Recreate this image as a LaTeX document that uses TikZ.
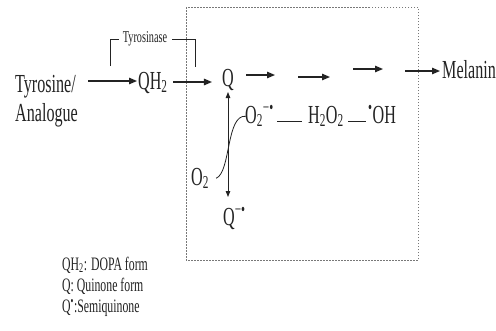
\documentclass[tikz,border=0pt]{standalone}
\usepackage{fontspec}
\setmainfont{Liberation Serif}[FakeStretch=0.62]
\usetikzlibrary{arrows.meta}
\definecolor{ink}{RGB}{35,35,35}
\definecolor{boxgray}{RGB}{120,120,120}
\begin{document}
\begin{tikzpicture}[x=1pt,y=-1pt,
  lbl/.style={inner sep=1pt,text=ink,font=\fontsize{26}{28}\selectfont},
  leg/.style={inner sep=0pt,text=ink,anchor=base west,font=\fontsize{19}{21}\selectfont},
  enz/.style={inner sep=1pt,text=ink,font=\fontsize{16.5}{18}\selectfont},
  arr/.style={draw=ink,line width=1.3pt,-{Triangle[length=8pt,width=6.5pt]}},
  varr/.style={draw=ink,line width=0.9pt,{Triangle[length=6pt,width=4.5pt]}-{Triangle[length=6pt,width=4.5pt]}},
  thin/.style={draw=ink,line width=0.8pt},
  boxline/.style={draw=boxgray,line width=0.8pt,dash pattern=on 1.5pt off 1.5pt}]
\useasboundingbox[fill=white] (0,0) rectangle (496,330);
% dashed box
\draw[boxline] (186,7) rectangle (418,260);
% labels
\node[lbl,anchor=base west] (tyr) at (14,92) {Tyrosine/};
\node[lbl,anchor=base west] (ana) at (14,121) {Analogue};
\node[lbl,anchor=base west] (qh2) at (137,89) {QH\textsubscript{2}};
\node[lbl,anchor=base] (q) at (228,86) {Q};
\node[lbl,anchor=base west] (mel) at (441,78) {Melanin};
\node[lbl,anchor=base west] (ox) at (244,123) {O\textsubscript{2}\textsuperscript{−•}};
\node[lbl,anchor=base west] (hp) at (307,123) {H\textsubscript{2}O\textsubscript{2}};
\node[lbl,anchor=base west] (oh) at (367,123) {\textsuperscript{•}OH};
\node[lbl,anchor=base west] (o2) at (190,185) {O\textsubscript{2}};
\node[lbl,anchor=base west] (qs) at (222,225) {Q\textsuperscript{−•}};
\node[enz] (tyrase) at (145,39) {Tyrosinase};
% legend
\node[leg] (l1) at (62,270) {QH\textsubscript{2}: DOPA form};
\node[leg] (l2) at (62,291) {Q: Quinone form};
\node[leg] (l3) at (62,312) {Q\textsuperscript{•}:Semiquinone};
% main arrows
\coordinate (t1) at (88,81);
\coordinate (t2) at (173,82);
\draw[arr] (t1) -- (t1 -| qh2.west);
\draw[arr] (t2) -- ([xshift=-9pt]t2 -| q.west);
\coordinate (a1s) at (246,75); \coordinate (a1e) at (275,75);
\coordinate (a2s) at (298,77); \coordinate (a2e) at (330,77);
\coordinate (a3s) at (353,69); \coordinate (a3e) at (383,69);
\coordinate (a4s) at (405,71);
\draw[arr] (a1s) -- (a1e);
\draw[arr] (a2s) -- (a2e);
\draw[arr] (a3s) -- (a3e);
\draw[arr] (a4s) -- ([xshift=-1pt]a4s -| mel.west);
% tyrosinase bracket
\coordinate (bl) at (110,66);
\coordinate (br) at (195,67);
\draw[thin] (bl) |- ([xshift=-3pt]tyrase.west);
\draw[thin] ([xshift=4pt]tyrase.east) -| (br);
% vertical double arrow
\draw[varr] ([yshift=-6pt]q.base) -- ([yshift=28pt]q.base |- qs.base);
% curve O2 -> O2-.
\draw[thin] ([xshift=6pt]o2.east) .. controls (231,172) and (226,114) .. ([xshift=2pt]ox.west);
% dashes
\coordinate (d1s) at (277,121); \coordinate (d1e) at (302,121);
\coordinate (d2s) at (348,121); \coordinate (d2e) at (366,121);
\draw[thin] (d1s) -- (d1e);
\draw[thin] (d2s) -- (d2e);
\end{tikzpicture}
\end{document}
